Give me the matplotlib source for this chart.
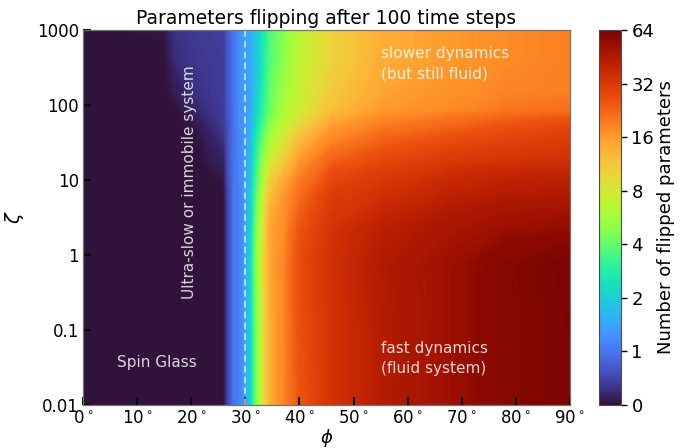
import numpy as np
import matplotlib
matplotlib.use("Agg")
import matplotlib.pyplot as plt
import matplotlib.colors as mcolors
from matplotlib.cm import ScalarMappable
from matplotlib.ticker import FixedLocator, FixedFormatter, NullLocator

# ---- data ----
phi_deg = [0, 15, 17, 21, 26, 26.8, 28, 29.5, 31, 32.7, 34.6, 37, 40, 46, 55.5, 68, 78, 90]
zeta = [0.01, 0.1, 0.8, 2.3, 6.3, 18, 30, 49, 85, 150, 400, 1000]

flips_z0_01 = [0, 0, 0, 0, 0, 0.5, 1.0, 1.15, 2.0, 6.0, 14, 18, 25, 34, 44, 52, 60, 63]
flips_z0_1 = [0, 0, 0, 0, 0, 0.5, 1.0, 1.15, 2.0, 6.0, 14, 18, 26, 34, 44, 52, 60, 63]
flips_z0_8 = [0, 0, 0, 0, 0, 0.5, 1.0, 1.15, 2.1, 6.5, 15, 18, 27, 35, 45, 52, 60, 64]
flips_z2_3 = [0, 0, 0, 0, 0, 0.5, 1.0, 1.15, 2.0, 6.0, 15, 17, 25, 34, 42, 48, 52, 54]
flips_z6_3 = [0, 0, 0, 0, 0, 0.5, 1.0, 1.15, 1.9, 5.0, 12, 16, 21, 31, 35, 41, 44, 45]
flips_z18 = [0, 0, 0, 0, 0.15, 0.6, 1.0, 1.2, 1.7, 4.0, 7.5, 10.5, 16, 23, 28, 32, 34, 35]
flips_z30 = [0, 0, 0, 0, 0.25, 0.6, 1.0, 1.2, 1.6, 3.5, 6.0, 8.5, 13, 19, 24, 28, 30, 32]
flips_z49 = [0, 0, 0, 0.05, 0.35, 0.6, 1.0, 1.25, 1.5, 3.0, 5.0, 7.0, 10, 16, 20, 23, 26, 29]
flips_z85 = [0, 0, 0, 0.2, 0.4, 0.65, 1.0, 1.25, 1.45, 2.6, 4.1, 5.7, 7.5, 12, 16, 17.8, 20, 21]
flips_z150 = [0, 0, 0.1, 0.3, 0.4, 0.7, 1.0, 1.3, 1.4, 2.3, 4.0, 5.3, 7.2, 11, 15, 17, 18.5, 19]
flips_z400 = [0, 0, 0.25, 0.35, 0.4, 0.7, 1.0, 1.3, 1.45, 2.1, 3.7, 4.8, 6.8, 10, 14, 16, 17.7, 19]
flips_z1000 = [0, 0.05, 0.3, 0.38, 0.42, 0.7, 1.0, 1.3, 1.5, 2.1, 3.6, 4.6, 6.5, 10, 14, 16, 17.7, 19]

flips = np.array([flips_z0_01, flips_z0_1, flips_z0_8, flips_z2_3, flips_z6_3, flips_z18,
                  flips_z30, flips_z49, flips_z85, flips_z150, flips_z400, flips_z1000])

x_ticks = [0, 10, 20, 30, 40, 50, 60, 70, 80, 90]
x_ticklabels = [f"{v}$^\\circ$" for v in x_ticks]
y_ticks = [0.01, 0.1, 1, 10, 100, 1000]
y_ticklabels = ["0.01", "0.1", "1", "10", "100", "1000"]
cbar_ticks = [0, 1, 2, 4, 8, 16, 32, 64]
cbar_ticklabels = ["0", "1", "2", "4", "8", "16", "32", "64"]


# ---- colour scale: 0..1 linear, then log2 ----
def fwd(x):
    x = np.asarray(x, dtype=float)
    return np.where(x >= 1, np.log2(np.maximum(x, 1.0)) + 1.0, x)


def inv(y):
    y = np.asarray(y, dtype=float)
    return np.where(y >= 1, 2.0 ** (y - 1.0), y)


norm = mcolors.FuncNorm((fwd, inv), vmin=0, vmax=64)
cmap = plt.get_cmap("turbo")

fig = plt.figure(figsize=(6.8, 4.48), dpi=100)
ax = fig.add_axes([83 / 680, 1 - 405 / 448, 487 / 680, 375 / 448])
cax = fig.add_axes([599 / 680, 1 - 405 / 448, 22 / 680, 375 / 448])

levels = inv(np.linspace(0, 7, 281))
P, Zt = np.meshgrid(phi_deg, zeta)
ax.contourf(P, Zt, flips, levels=levels, cmap=cmap, norm=norm, antialiased=False)

ax.set_yscale("log")
ax.set_xlim(0, 90)
ax.set_ylim(0.01, 1000)

ax.axvline(30, color="white", alpha=0.75, ls="--", lw=1.2, dashes=(4, 2.5))

txt_kw = dict(color="white", alpha=0.82, fontsize=11)
ax.text(13.7, 0.037, "Spin Glass", ha="center", va="center", **txt_kw)
ax.text(19.6, 9.4, "Ultra-slow or immobile system", rotation=90,
        ha="center", va="center", **txt_kw)
ax.text(55, 350, "slower dynamics\n(but still fluid)", ha="left", va="center",
        linespacing=1.45, **txt_kw)
ax.text(55, 0.042, "fast dynamics\n(fluid system)", ha="left", va="center",
        linespacing=1.45, **txt_kw)

ax.xaxis.set_major_locator(FixedLocator(x_ticks))
ax.xaxis.set_major_formatter(FixedFormatter(x_ticklabels))
ax.yaxis.set_major_locator(FixedLocator(y_ticks))
ax.yaxis.set_major_formatter(FixedFormatter(y_ticklabels))
ax.yaxis.set_minor_locator(NullLocator())
ax.xaxis.set_minor_locator(NullLocator())
ax.tick_params(direction="in", length=6, width=1.5, color="black",
               labelsize=12, pad=3)
for s in ax.spines.values():
    s.set_color("0.45")
    s.set_linewidth(0.9)

ax.set_title("Parameters flipping after 100 time steps", fontsize=13.5, pad=4)
ax.set_xlabel(r"$\phi$", fontsize=13, labelpad=0)
ax.set_ylabel(r"$\zeta$", fontsize=14, labelpad=8)

sm = ScalarMappable(norm=norm, cmap=cmap)
cb = fig.colorbar(sm, cax=cax, ticks=cbar_ticks)
cb.set_ticklabels(cbar_ticklabels)
cb.ax.tick_params(labelsize=13, length=4, width=1)
cb.outline.set_edgecolor("0.3")
cb.outline.set_linewidth(0.8)
cb.set_label("Number of flipped parameters", fontsize=13, labelpad=2)

fig.savefig("out.png", dpi=100)
